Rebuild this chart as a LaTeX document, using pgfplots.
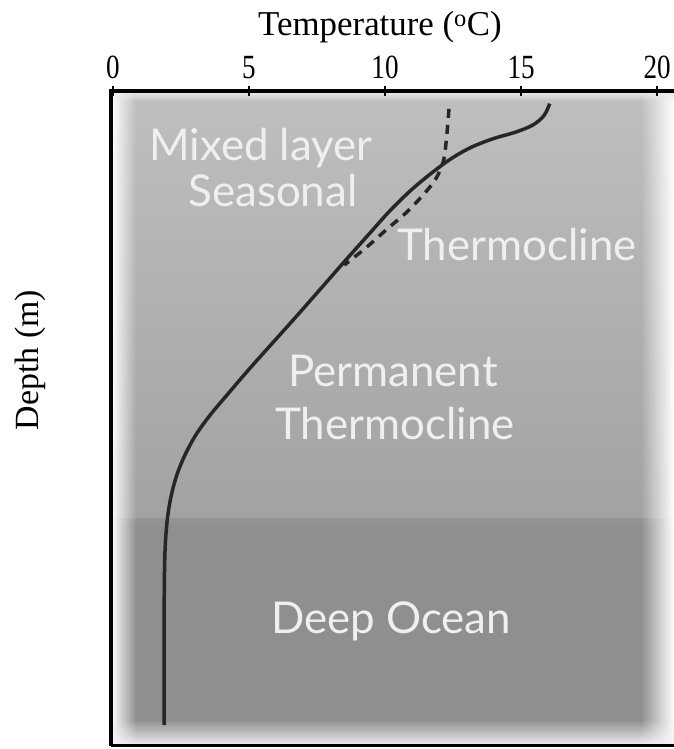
\documentclass[border=0pt]{standalone}
\usepackage{pgfplots}
\pgfplotsset{compat=1.18}
\usepackage{graphicx}
\usepackage{fontspec}
\setmainfont{Liberation Serif}
\newfontfamily\zonefont{Lato}
\usetikzlibrary{fadings}

\tikzfading[name=fade right, left color=transparent!0, right color=transparent!100]
\tikzfading[name=fade left, left color=transparent!100, right color=transparent!0]
\tikzfading[name=fade bottom, top color=transparent!100, bottom color=transparent!0]
\tikzfading[name=fade top, top color=transparent!0, bottom color=transparent!100]

\definecolor{bgtop}{HTML}{BFBFBF}
\definecolor{bgmid}{HTML}{A2A2A2}
\definecolor{bgdeep}{HTML}{8F8F8F}
\definecolor{curve}{HTML}{262626}
\definecolor{zonetext}{HTML}{EFEFEF}

\begin{document}
\begin{tikzpicture}[x=1bp,y=1bp]
\useasboundingbox (0,0) rectangle (674,749);
\begin{axis}[
  at={(111bp,3bp)}, anchor=south west,
  scale only axis, width=563bp, height=655bp,
  xmin=-0.07, xmax=20.62, ymin=-6.13, ymax=0.08,
  axis line style={draw=none},
  xtick={0,5,10,15,20}, xtick pos=top, xticklabel pos=top,
  xtick style={draw=none},
  xticklabel={\scalebox{0.8}[1]{\pgfmathprintnumber[assume math mode=true]{\tick}}},
  xticklabel style={font=\fontsize{34}{36}\selectfont, inner sep=0pt, anchor=south, yshift=12bp},
  ytick={-6,-5,-4,-3,-2,-1}, yticklabels={}, ytick pos=left,
  tick align=inside, major tick length=18bp,
  ytick style={line width=2.5bp, black},
  clip=false,
]
% background zones
\shade[top color=bgtop, bottom color=bgmid]
  (axis cs:-0.07,0.08) rectangle (axis cs:20.62,-3.97);
\shade[top color=bgmid!92!black, bottom color=bgdeep]
  (axis cs:-0.07,-3.97) rectangle (axis cs:20.62,-4.05);
\fill[bgdeep] (axis cs:-0.07,-4.05) rectangle (axis cs:20.62,-6.13);
% light edges of the panel
\fill[white, path fading=fade right] (axis cs:-0.07,0.08) rectangle (axis cs:0.85,-6.13);
\fill[white, path fading=fade left] (axis cs:19.4,0.08) rectangle (axis cs:20.62,-6.13);
\fill[white!90!gray, path fading=fade bottom] (axis cs:-0.07,-5.88) rectangle (axis cs:20.62,-6.13);
\fill[white!85!gray, path fading=fade top] (axis cs:-0.07,0.08) rectangle (axis cs:20.62,-0.02);

% zone names
\begin{scope}[every node/.style={text=zonetext, font=\zonefont\fontsize{44}{48}\selectfont, inner sep=0pt}]
\node at (axis cs:5.44,-0.46) {Mixed layer};
\node at (axis cs:5.88,-0.86) {Seasonal};
\node at (axis cs:14.85,-1.38) {Thermocline};
\node at (axis cs:10.29,-2.57) {Permanent};
\node at (axis cs:10.37,-3.07) {Thermocline};
\node at (axis cs:10.22,-4.95) {Deep Ocean};
\end{scope}

% seasonal profile (dashed)
\addplot[curve, line width=3.5bp, dash pattern=on 9bp off 7bp, smooth, tension=0.5] coordinates {
  (12.35,-0.09) (12.27,-0.34) (12.15,-0.58) (11.85,-0.76) (11.35,-0.92)
  (10.75,-1.08) (10.07,-1.23) (9.42,-1.38) (8.85,-1.50) (8.50,-1.57)
};
% temperature profile (solid)
\addplot[curve, line width=3.5bp, smooth, tension=0.55] coordinates {
  (16.05,-0.04) (15.85,-0.15) (15.45,-0.24) (14.80,-0.31) (14.00,-0.37)
  (13.20,-0.45) (12.50,-0.55) (11.80,-0.68) (11.00,-0.85) (10.20,-1.05)
  (9.40,-1.28) (8.50,-1.54) (6.80,-2.04) (5.10,-2.53) (4.20,-2.80)
  (3.55,-3.00) (3.05,-3.18) (2.65,-3.37) (2.35,-3.56) (2.14,-3.76)
  (2.00,-3.98) (1.92,-4.25) (1.89,-4.60) (1.88,-5.20) (1.88,-5.93)
};

% frame: left, top and bottom only
\draw[black, line width=3.5bp] (rel axis cs:0,0) -- (rel axis cs:0,1) -- (rel axis cs:1,1);
\draw[black, line width=3bp] (rel axis cs:0,0) -- (rel axis cs:1,0);
\pgfplotsinvokeforeach{0,5,10,15,20}{
  \draw[black, line width=2bp] ([yshift=5bp]axis cs:#1,0.08) -- ([yshift=-5bp]axis cs:#1,0.08);
}
\end{axis}
\node[font=\fontsize{35}{37}\selectfont] at (380,722) {Temperature (\textsuperscript{o}C)};
\node[font=\fontsize{34}{36}\selectfont, rotate=90] at (30,389) {Depth (m)};
\end{tikzpicture}
\end{document}
